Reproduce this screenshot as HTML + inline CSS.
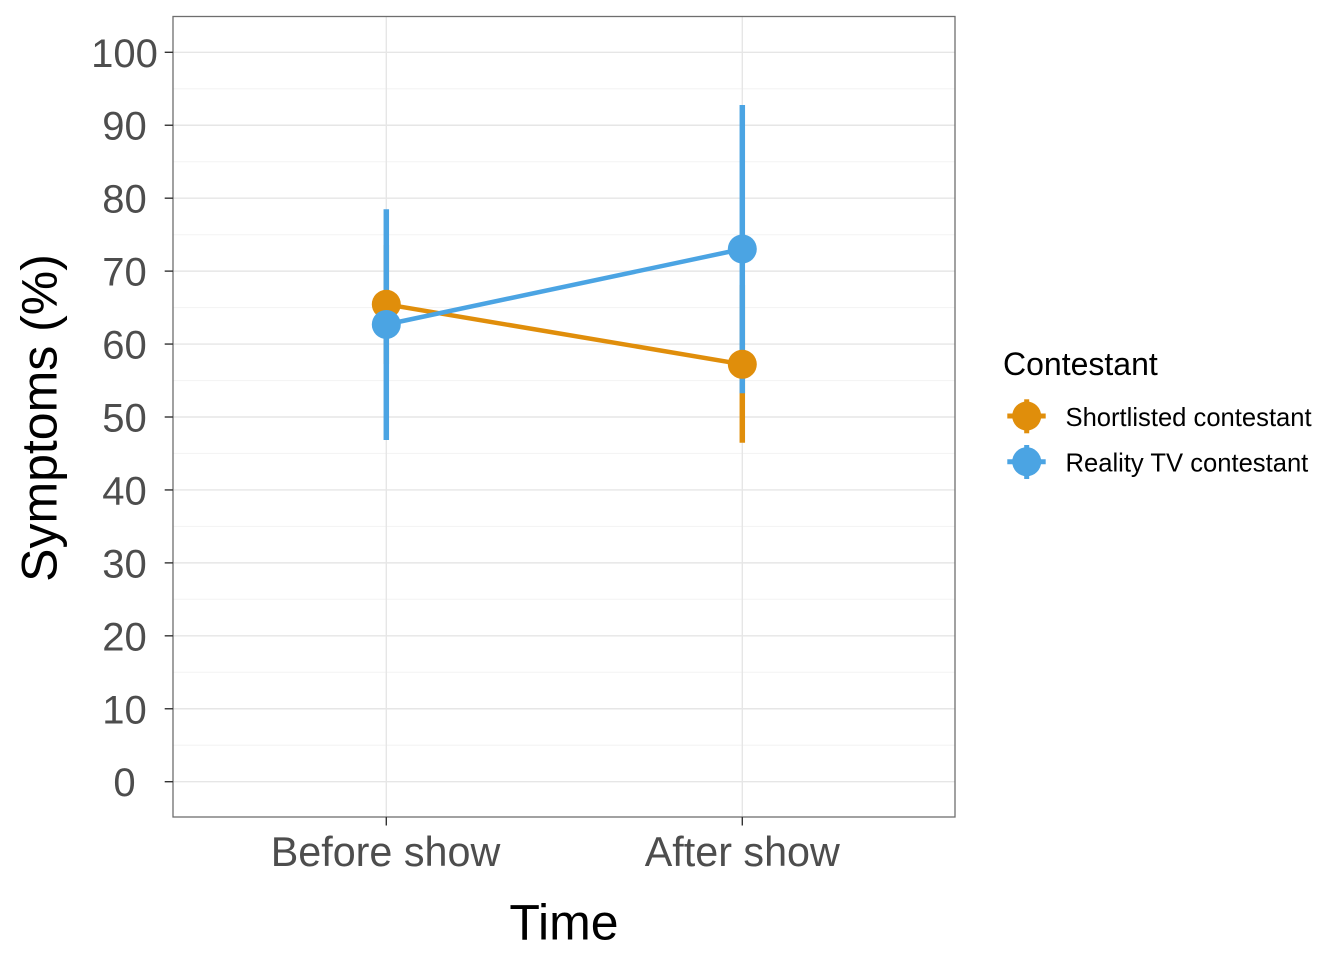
<!DOCTYPE html>
<html>
<head>
<meta charset="utf-8">
<style>
  html, body { margin: 0; padding: 0; background: #ffffff; }
  svg { display: block; }
  text { font-family: "Liberation Sans", Arial, Helvetica, sans-serif; }
</style>
</head>
<body>
<svg width="1344" height="960" viewBox="0 0 1344 960" xmlns="http://www.w3.org/2000/svg">
  <rect x="0" y="0" width="1344" height="960" fill="#ffffff"/>
  <rect x="173" y="16.5" width="782" height="800.5" fill="#ffffff"/>
  <g stroke="#f4f4f4" stroke-width="1.1">
    <line x1="173" x2="955" y1="745.23" y2="745.23"/>
    <line x1="173" x2="955" y1="672.29" y2="672.29"/>
    <line x1="173" x2="955" y1="599.35" y2="599.35"/>
    <line x1="173" x2="955" y1="526.41" y2="526.41"/>
    <line x1="173" x2="955" y1="453.47" y2="453.47"/>
    <line x1="173" x2="955" y1="380.53" y2="380.53"/>
    <line x1="173" x2="955" y1="307.59" y2="307.59"/>
    <line x1="173" x2="955" y1="234.65" y2="234.65"/>
    <line x1="173" x2="955" y1="161.71" y2="161.71"/>
    <line x1="173" x2="955" y1="88.77" y2="88.77"/>
  </g>
  <g stroke="#e6e6e6" stroke-width="1.4">
    <line x1="173" x2="955" y1="781.7" y2="781.7"/>
    <line x1="173" x2="955" y1="708.76" y2="708.76"/>
    <line x1="173" x2="955" y1="635.82" y2="635.82"/>
    <line x1="173" x2="955" y1="562.88" y2="562.88"/>
    <line x1="173" x2="955" y1="489.94" y2="489.94"/>
    <line x1="173" x2="955" y1="417.0" y2="417.0"/>
    <line x1="173" x2="955" y1="344.06" y2="344.06"/>
    <line x1="173" x2="955" y1="271.12" y2="271.12"/>
    <line x1="173" x2="955" y1="198.18" y2="198.18"/>
    <line x1="173" x2="955" y1="125.24" y2="125.24"/>
    <line x1="173" x2="955" y1="52.3" y2="52.3"/>
    <line x1="386.3" x2="386.3" y1="16.5" y2="817"/>
    <line x1="742.3" x2="742.3" y1="16.5" y2="817"/>
  </g>

  <line x1="386.3" y1="304.3" x2="742.3" y2="364.3" stroke="#E08E0B" stroke-width="4.5"/>
  <line x1="386.3" y1="324.5" x2="742.3" y2="249" stroke="#4BA4E3" stroke-width="4.5"/>

  <line x1="386.3" y1="245" x2="386.3" y2="364" stroke="#E08E0B" stroke-width="5.5"/>
  <line x1="742.3" y1="285" x2="742.3" y2="442.7" stroke="#E08E0B" stroke-width="5.5"/>
  <line x1="386.3" y1="209.3" x2="386.3" y2="440" stroke="#4BA4E3" stroke-width="5.5"/>
  <line x1="742.3" y1="105" x2="742.3" y2="393.3" stroke="#4BA4E3" stroke-width="5.5"/>

  <circle cx="386.3" cy="304.3" r="14.5" fill="#E08E0B"/>
  <circle cx="742.3" cy="364.3" r="14.5" fill="#E08E0B"/>
  <circle cx="386.3" cy="324.5" r="14.5" fill="#4BA4E3"/>
  <circle cx="742.3" cy="249" r="14.5" fill="#4BA4E3"/>

  <rect x="173" y="16.5" width="782" height="800.5" fill="none" stroke="#6e6e6e" stroke-width="1.3"/>

  <g stroke="#333333" stroke-width="1.4">
    <line x1="164.7" x2="173" y1="781.7" y2="781.7"/>
    <line x1="164.7" x2="173" y1="708.76" y2="708.76"/>
    <line x1="164.7" x2="173" y1="635.82" y2="635.82"/>
    <line x1="164.7" x2="173" y1="562.88" y2="562.88"/>
    <line x1="164.7" x2="173" y1="489.94" y2="489.94"/>
    <line x1="164.7" x2="173" y1="417.0" y2="417.0"/>
    <line x1="164.7" x2="173" y1="344.06" y2="344.06"/>
    <line x1="164.7" x2="173" y1="271.12" y2="271.12"/>
    <line x1="164.7" x2="173" y1="198.18" y2="198.18"/>
    <line x1="164.7" x2="173" y1="125.24" y2="125.24"/>
    <line x1="164.7" x2="173" y1="52.3" y2="52.3"/>
    <line x1="386.3" x2="386.3" y1="817" y2="825.5"/>
    <line x1="742.3" x2="742.3" y1="817" y2="825.5"/>
  </g>

  <g fill="#4d4d4d" font-size="40" text-anchor="middle">
    <text x="124.5" y="796.2">0</text>
    <text x="124.5" y="723.3">10</text>
    <text x="124.5" y="650.3">20</text>
    <text x="124.5" y="577.4">30</text>
    <text x="124.5" y="504.4">40</text>
    <text x="124.5" y="431.5">50</text>
    <text x="124.5" y="358.6">60</text>
    <text x="124.5" y="285.6">70</text>
    <text x="124.5" y="212.7">80</text>
    <text x="124.5" y="139.7">90</text>
    <text x="124.5" y="66.8">100</text>
  </g>

  <g fill="#4d4d4d" font-size="41.3" text-anchor="middle">
    <text x="385.5" y="866">Before show</text>
    <text x="742.3" y="866">After show</text>
  </g>

  <text x="564" y="939.3" font-size="50" text-anchor="middle" fill="#000000">Time</text>
  <text x="0" y="0" font-size="50" text-anchor="middle" fill="#000000" transform="translate(56.5,418) rotate(-90)">Symptoms (%)</text>

  <text x="1003" y="375" font-size="32" fill="#000000">Contestant</text>
  <g>
    <line x1="1007.3" x2="1045.7" y1="416" y2="416" stroke="#E08E0B" stroke-width="5"/>
    <line x1="1026.7" x2="1026.7" y1="399.3" y2="433.3" stroke="#E08E0B" stroke-width="5"/>
    <circle cx="1026.7" cy="416" r="14.5" fill="#E08E0B"/>
    <line x1="1007.3" x2="1045.7" y1="461.7" y2="461.7" stroke="#4BA4E3" stroke-width="5"/>
    <line x1="1026.7" x2="1026.7" y1="445" y2="479" stroke="#4BA4E3" stroke-width="5"/>
    <circle cx="1026.7" cy="461.7" r="14.5" fill="#4BA4E3"/>
  </g>
  <g fill="#000000" font-size="25.6">
    <text x="1065.5" y="426">Shortlisted contestant</text>
    <text x="1065.5" y="471.7">Reality TV contestant</text>
  </g>
</svg>
</body>
</html>
